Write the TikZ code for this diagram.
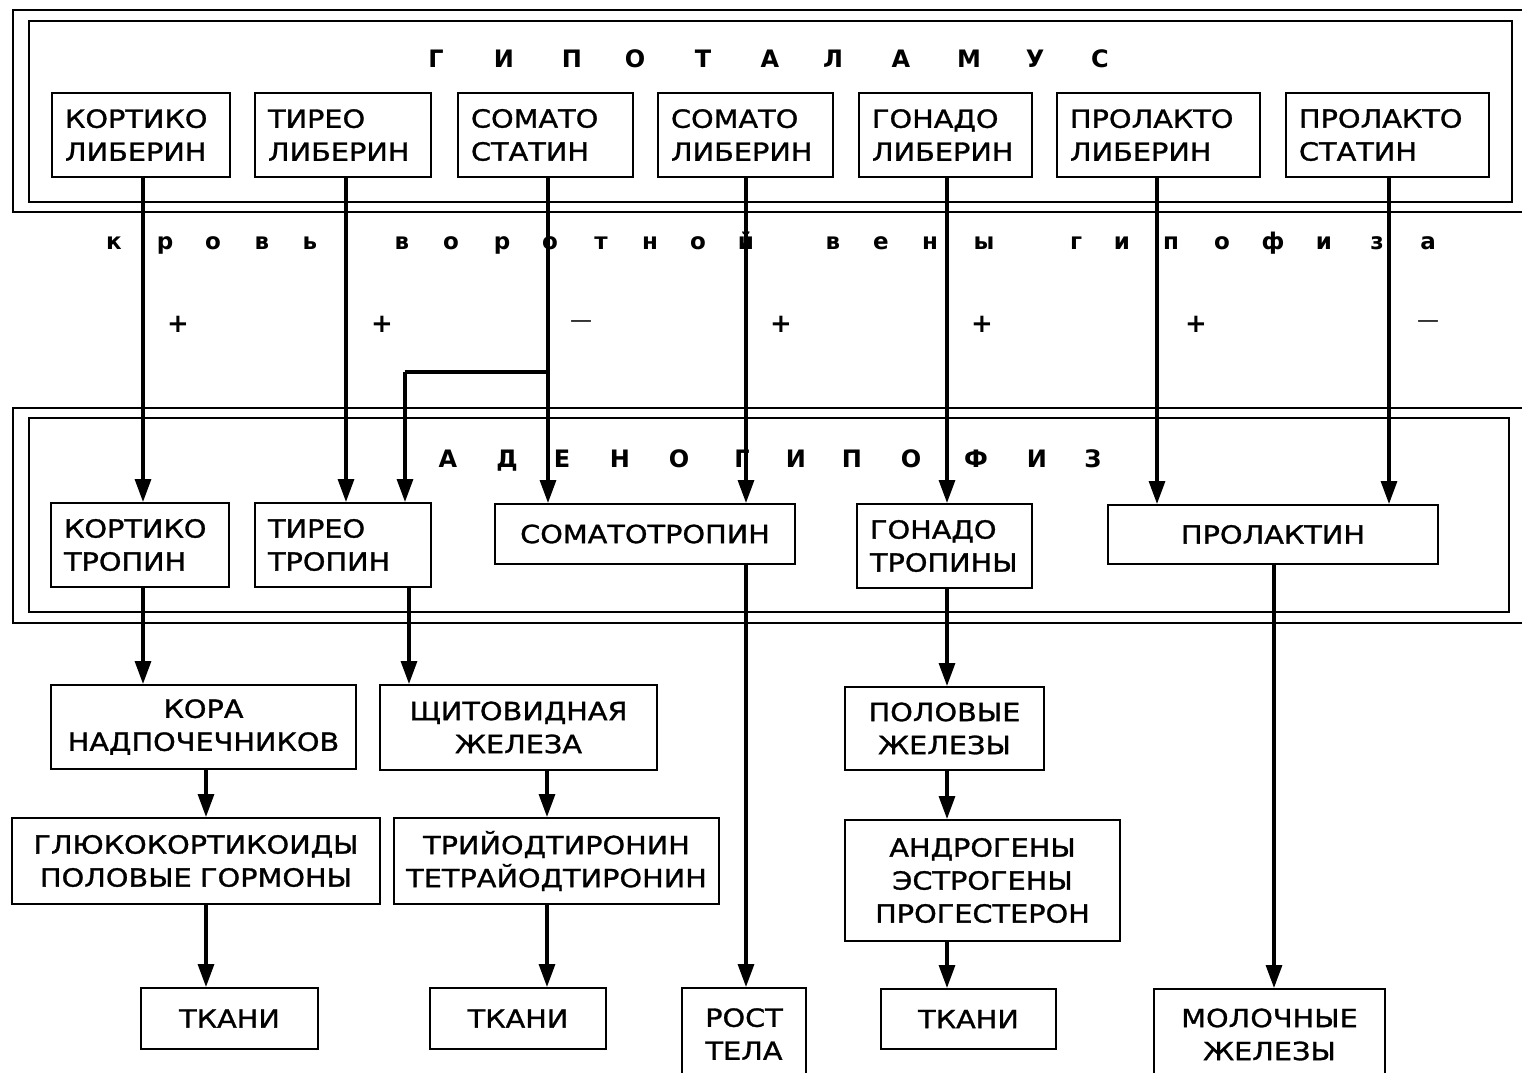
\documentclass[tikz,border=0pt]{standalone}
\usepackage{fontspec}
\setmainfont{DejaVu Sans}
\newfontfamily\bxf[FakeStretch=1.15,FakeBold=1.2]{DejaVu Sans}
\usetikzlibrary{arrows.meta}
\tikzset{
  hbox/.style={draw, line width=2pt, inner sep=0pt, font=\bxf\fontsize{25}{33}\selectfont},
  arr/.style={line width=3.2pt, -{Triangle[length=23pt,width=16pt]}},
  wire/.style={line width=3.2pt},
  frame/.style={line width=2.5pt},
  hdr/.style={font=\bfseries\fontsize{24}{28}\selectfont, inner sep=0pt, anchor=base},
  hdrl/.style={font=\bfseries\fontsize{23}{28}\selectfont, inner sep=0pt, anchor=base},
  plus/.style={font=\bfseries\fontsize{26}{28}\selectfont, inner sep=0pt},
  minus/.style={font=\fontsize{22}{24}\selectfont, inner sep=0pt},
}
% \bx{name}{x1}{y1}{x2}{y2}{align}{pad}{text}
\newcommand\bx[8]{%
  \pgfmathsetmacro\bw{#4-#2}\pgfmathsetmacro\bh{#5-#3}%
  \pgfmathsetmacro\tw{#4-#2-#7}%
  \node[hbox, minimum width=\bw pt, minimum height=\bh pt, text width=\tw pt, align=#6] (#1) at ({(#2+#4)/2},{(#3+#5)/2}) {\hyphenpenalty=10000 #8};}
\begin{document}
\begin{tikzpicture}[x=1pt,y=-1pt]
\useasboundingbox (0,0) rectangle (1522,1072);
\clip (0,0) rectangle (1522,1072);

% frames
\draw[frame] (13,10) rectangle (1545,212);
\draw[frame] (29,21) rectangle (1512,202);
\draw[frame] (13,408) rectangle (1545,623);
\draw[frame] (29,418) rectangle (1509,612);

% headers
\foreach \x/\l [count=\i] in {436/Г,504/И,572/П,635/О,703/Т,770/А,833/Л,901/А,969/М,1035/У,1100/С}
  \node[hdr] (g\i) at (\x,67) {\l};
\foreach \x/\l [count=\i] in {448/А,507/Д,562/Е,620/Н,679/О,742/Г,796/И,852/П,911/О,976/Ф,1037/И,1093/З}
  \node[hdr] (a\i) at (\x,467) {\l};
\foreach \x/\l [count=\i] in {114/к,165/р,213/о,262/в,310/ь,402/в,451/о,502/р,550/о,601/т,650/н,698/о,746/й,833/в,881/е,930/н,984/ы,1076/г,1122/и,1171/п,1222/о,1273/ф,1324/и,1377/з,1428/а}
  \node[hdrl] (k\i) at (\x,249) {\l};

% signs
\node[plus] (p1) at (178,324) {+};
\node[plus] (p2) at (382,324) {+};
\node[minus] (m1) at (581,324) {—};
\node[plus] (p3) at (781,324) {+};
\node[plus] (p4) at (982,324) {+};
\node[plus] (p5) at (1196,324) {+};
\node[minus] (m2) at (1428,324) {—};

% hypothalamus boxes
\bx{KL}{52}{93}{230}{177}{left}{26}{КОРТИКО\\ЛИБЕРИН}
\bx{TL}{255}{93}{431}{177}{left}{26}{ТИРЕО\\ЛИБЕРИН}
\bx{SS}{458}{93}{633}{177}{left}{26}{СОМАТО\\СТАТИН}
\bx{SL}{658}{93}{833}{177}{left}{26}{СОМАТО\\ЛИБЕРИН}
\bx{GL}{859}{93}{1032}{177}{left}{26}{ГОНАДО\\ЛИБЕРИН}
\bx{PL}{1057}{93}{1260}{177}{left}{26}{ПРОЛАКТО\\ЛИБЕРИН}
\bx{PS}{1286}{93}{1489}{177}{left}{26}{ПРОЛАКТО\\СТАТИН}

% adenohypophysis boxes
\bx{KT}{51}{503}{229}{587}{left}{26}{КОРТИКО\\ТРОПИН}
\bx{TT}{255}{503}{431}{587}{left}{26}{ТИРЕО\\ТРОПИН}
\bx{ST}{495}{504}{795}{564}{center}{4}{СОМАТОТРОПИН}
\bx{GT}{857}{504}{1032}{588}{left}{26}{ГОНАДО\\ТРОПИНЫ}
\bx{PR}{1108}{505}{1438}{564}{center}{4}{ПРОЛАКТИН}

% glands
\bx{KN}{51}{685}{356}{769}{center}{4}{КОРА\\НАДПОЧЕЧНИКОВ}
\bx{SZ}{380}{685}{657}{770}{center}{4}{ЩИТОВИДНАЯ\\ЖЕЛЕЗА}
\bx{PZ}{845}{687}{1044}{770}{center}{4}{ПОЛОВЫЕ\\ЖЕЛЕЗЫ}

% hormones
\bx{GK}{12}{818}{380}{904}{center}{4}{ГЛЮКОКОРТИКОИДЫ\\ПОЛОВЫЕ~ГОРМОНЫ}
\bx{TR}{394}{818}{719}{904}{center}{4}{ТРИЙОДТИРОНИН\\ТЕТРАЙОДТИРОНИН}
\bx{AN}{845}{820}{1120}{941}{center}{4}{АНДРОГЕНЫ\\ЭСТРОГЕНЫ\\ПРОГЕСТЕРОН}

% targets
\bx{T1}{141}{988}{318}{1049}{center}{4}{ТКАНИ}
\bx{T2}{430}{988}{606}{1049}{center}{4}{ТКАНИ}
\bx{RT}{682}{988}{806}{1080}{center}{4}{РОСТ\\ТЕЛА}
\bx{T3}{881}{989}{1056}{1049}{center}{4}{ТКАНИ}
\bx{MZ}{1154}{989}{1385}{1080}{center}{4}{МОЛОЧНЫЕ\\ЖЕЛЕЗЫ}

% columns
\coordinate (c1) at (143,0);
\coordinate (c2) at (346,0);
\coordinate (c3) at (548,0);
\coordinate (c4) at (746,0);
\coordinate (c5) at (947,0);
\coordinate (c6) at (1157,0);
\coordinate (c7) at (1389,0);
\coordinate (c9) at (409,0);
\coordinate (c10) at (206,0);
\coordinate (c11) at (547,0);
\coordinate (c13) at (1274,0);
\coordinate (br) at (405,372);

% hypothalamus -> adenohypophysis
\draw[arr] (KL.south -| c1) -- (KT.north -| c1);
\draw[arr] (TL.south -| c2) -- (TT.north -| c2);
\draw[arr] (SS.south -| c3) -- (ST.north -| c3);
\draw[wire] (br -| c3) -- (br);
\draw[arr] (br) -- (TT.north -| br);
\draw[arr] (SL.south -| c4) -- (ST.north -| c4);
\draw[arr] (GL.south -| c5) -- (GT.north -| c5);
\draw[arr] (PL.south -| c6) -- (PR.north -| c6);
\draw[arr] (PS.south -| c7) -- (PR.north -| c7);

% adenohypophysis -> glands
\draw[arr] (KT.south -| c1) -- (KN.north -| c1);
\draw[arr] (TT.south -| c9) -- (SZ.north -| c9);
\draw[arr] (ST.south -| c4) -- (RT.north -| c4);
\draw[arr] (GT.south -| c5) -- (PZ.north -| c5);
\draw[arr] (PR.south -| c13) -- (MZ.north -| c13);

% glands -> hormones -> tissues
\draw[arr] (KN.south -| c10) -- (GK.north -| c10);
\draw[arr] (SZ.south -| c11) -- (TR.north -| c11);
\draw[arr] (PZ.south -| c5) -- (AN.north -| c5);
\draw[arr] (GK.south -| c10) -- (T1.north -| c10);
\draw[arr] (TR.south -| c11) -- (T2.north -| c11);
\draw[arr] (AN.south -| c5) -- (T3.north -| c5);
\end{tikzpicture}
\end{document}
